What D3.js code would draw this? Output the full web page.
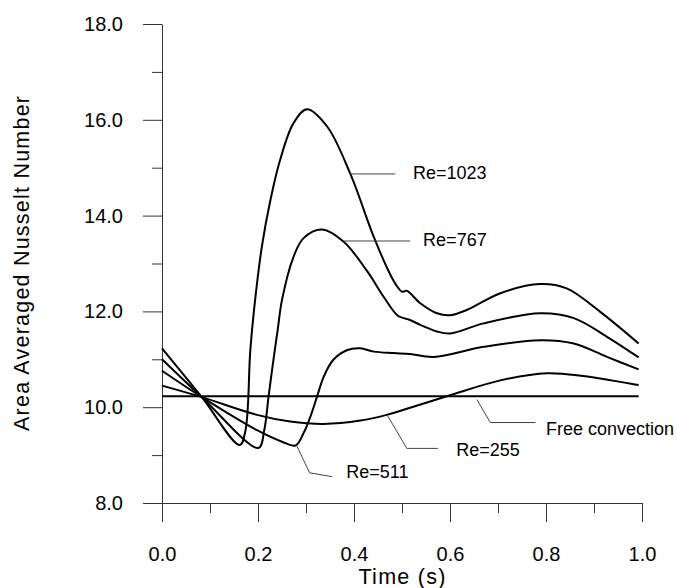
<!DOCTYPE html>
<html>
<head>
<meta charset="utf-8">
<script src="https://cdn.jsdelivr.net/npm/d3@7"></script>
<style>
  body { margin: 0; background: #fff; }
  svg { display: block; font-family: "Liberation Sans", Arial, sans-serif; }
</style>
</head>
<body>
<div id="chart-container"></div>
<script>
const width = 677;
const height = 588;
const margin = { top: 24, left: 162, right: 35, bottom: 85 };

// time values (s) and Nusselt numbers
const time1023 = [0, 0.083, 0.162, 0.174, 0.184, 0.194, 0.208, 0.226, 0.246, 0.274, 0.302, 0.344, 0.392, 0.441, 0.476, 0.49, 0.5, 0.51, 0.538, 0.573, 0.6, 0.635, 0.705, 0.788, 0.843, 0.913, 0.993];
const nu1023 = [11.23, 10.21, 9.21, 9.52, 11.19, 12.24, 13.35, 14.33, 15.16, 15.93, 16.22, 15.86, 14.88, 13.56, 12.76, 12.52, 12.41, 12.43, 12.17, 11.96, 11.92, 12.03, 12.38, 12.57, 12.48, 11.99, 11.33];

const time767 = [0, 0.083, 0.201, 0.213, 0.222, 0.233, 0.241, 0.25, 0.274, 0.295, 0.333, 0.378, 0.426, 0.462, 0.49, 0.503, 0.514, 0.538, 0.573, 0.6, 0.67, 0.788, 0.858, 0.927, 0.993];
const nu767 = [11.0, 10.21, 9.15, 9.52, 10.22, 11.05, 11.61, 12.24, 13.14, 13.53, 13.71, 13.46, 12.86, 12.3, 11.92, 11.86, 11.83, 11.72, 11.58, 11.54, 11.75, 11.96, 11.86, 11.47, 11.04];

const time511 = [0, 0.083, 0.198, 0.25, 0.278, 0.295, 0.309, 0.323, 0.337, 0.357, 0.385, 0.413, 0.441, 0.483, 0.517, 0.566, 0.67, 0.788, 0.858, 0.927, 0.993];
const nu511 = [10.76, 10.21, 9.52, 9.28, 9.2, 9.46, 9.80, 10.22, 10.64, 10.99, 11.19, 11.23, 11.16, 11.13, 11.11, 11.05, 11.26, 11.40, 11.33, 11.05, 10.79];

const time255 = [0, 0.083, 0.198, 0.267, 0.337, 0.413, 0.468, 0.517, 0.6, 0.705, 0.802, 0.878, 0.993];
const nu255 = [10.45, 10.21, 9.84, 9.70, 9.65, 9.72, 9.84, 9.99, 10.25, 10.56, 10.71, 10.65, 10.46];

const timeFree = [0, 0.993];
const nuFree = [10.23, 10.23];

const xTicks = [0, 0.2, 0.4, 0.6, 0.8, 1.0];
const xMinorTicks = [0.1, 0.3, 0.5, 0.7, 0.9];
const yTicks = [8, 10, 12, 14, 16, 18];
const yMinorTicks = [9, 11, 13, 15, 17];

// labels with their leader lines, in data units
const labelText = ["Re=1023", "Re=767", "Re=511", "Re=255", "Free convection"];
const labelPos = [[0.523, 14.76], [0.544, 13.37], [0.384, 8.52], [0.613, 8.98], [0.8, 9.41]];
const leaders = [
  [[0.392, 14.87], [0.486, 14.87]],
  [[0.378, 13.47], [0.517, 13.47]],
  [[0.28, 9.21], [0.3075, 8.63], [0.354, 8.55]],
  [[0.469, 9.84], [0.51, 9.14], [0.575, 9.14]],
  [[0.656, 10.16], [0.684, 9.68], [0.778, 9.68]]
];

const zip = (t, v) => t.map((d, i) => ({ t: d, v: v[i] }));
const series = [
  zip(time1023, nu1023),
  zip(time767, nu767),
  zip(time511, nu511),
  zip(time255, nu255),
  zip(timeFree, nuFree)
];

const svg = d3.select("#chart-container").append("svg")
  .attr("width", width)
  .attr("height", height);

const x = d3.scaleLinear()
  .domain([0, 1])
  .range([margin.left, width - margin.right]);

const y = d3.scaleLinear()
  .domain([8, 18])
  .range([height - margin.bottom, margin.top]);

// Axes, major and minor ticks
const axisColor = "#333";

svg.append("g")
  .attr("transform", `translate(0,${y(8)})`)
  .call(d3.axisBottom(x).tickValues(xTicks).tickFormat(d3.format(".1f"))
    .tickSize(19).tickSizeOuter(0).tickPadding(25));

svg.append("g")
  .attr("transform", `translate(0,${y(8)})`)
  .call(d3.axisBottom(x).tickValues(xMinorTicks).tickFormat("")
    .tickSize(10).tickSizeOuter(0))
  .call(g => g.select(".domain").remove());

svg.append("g")
  .attr("transform", `translate(${x(0)},0)`)
  .call(d3.axisLeft(y).tickValues(yTicks).tickFormat(d3.format(".1f"))
    .tickSize(19).tickSizeOuter(0).tickPadding(20));

svg.append("g")
  .attr("transform", `translate(${x(0)},0)`)
  .call(d3.axisLeft(y).tickValues(yMinorTicks).tickFormat("")
    .tickSize(10).tickSizeOuter(0))
  .call(g => g.select(".domain").remove());

svg.selectAll(".domain, .tick line").attr("stroke", axisColor);
svg.selectAll(".tick text")
  .attr("fill", "#000")
  .style("font-size", "20px")
  .style("font-family", "'Liberation Sans', Arial, sans-serif");

// Axis titles
svg.append("text")
  .attr("x", (x(0) + x(1)) / 2)
  .attr("y", 584)
  .attr("text-anchor", "middle")
  .attr("textLength", 87)
  .attr("lengthAdjust", "spacing")
  .style("font-size", "21.5px")
  .text("Time (s)");

svg.append("text")
  .attr("transform", `translate(28.5,${(y(8) + y(18)) / 2}) rotate(-90)`)
  .attr("text-anchor", "middle")
  .attr("textLength", 335)
  .attr("lengthAdjust", "spacing")
  .style("font-size", "21.5px")
  .text("Area Averaged Nusselt Number");

// Curves
const line = d3.line()
  .x(d => x(d.t))
  .y(d => y(d.v))
  .curve(d3.curveCatmullRom.alpha(0.5));

svg.append("g")
  .selectAll("path")
  .data(series)
  .enter()
  .append("path")
  .attr("fill", "none")
  .attr("stroke", "#000")
  .attr("stroke-width", 2)
  .attr("stroke-linejoin", "round")
  .attr("d", line);

// Leader lines and labels
const leaderLine = d3.line()
  .x(d => x(d[0]))
  .y(d => y(d[1]));

svg.append("g")
  .selectAll("path")
  .data(leaders)
  .enter()
  .append("path")
  .attr("fill", "none")
  .attr("stroke", "#444")
  .attr("stroke-width", 1)
  .attr("d", leaderLine);

svg.append("g")
  .selectAll("text")
  .data(labelText)
  .enter()
  .append("text")
  .attr("x", (d, i) => x(labelPos[i][0]))
  .attr("y", (d, i) => y(labelPos[i][1]))
  .style("font-size", "18px")
  .text(d => d);
</script>
</body>
</html>
